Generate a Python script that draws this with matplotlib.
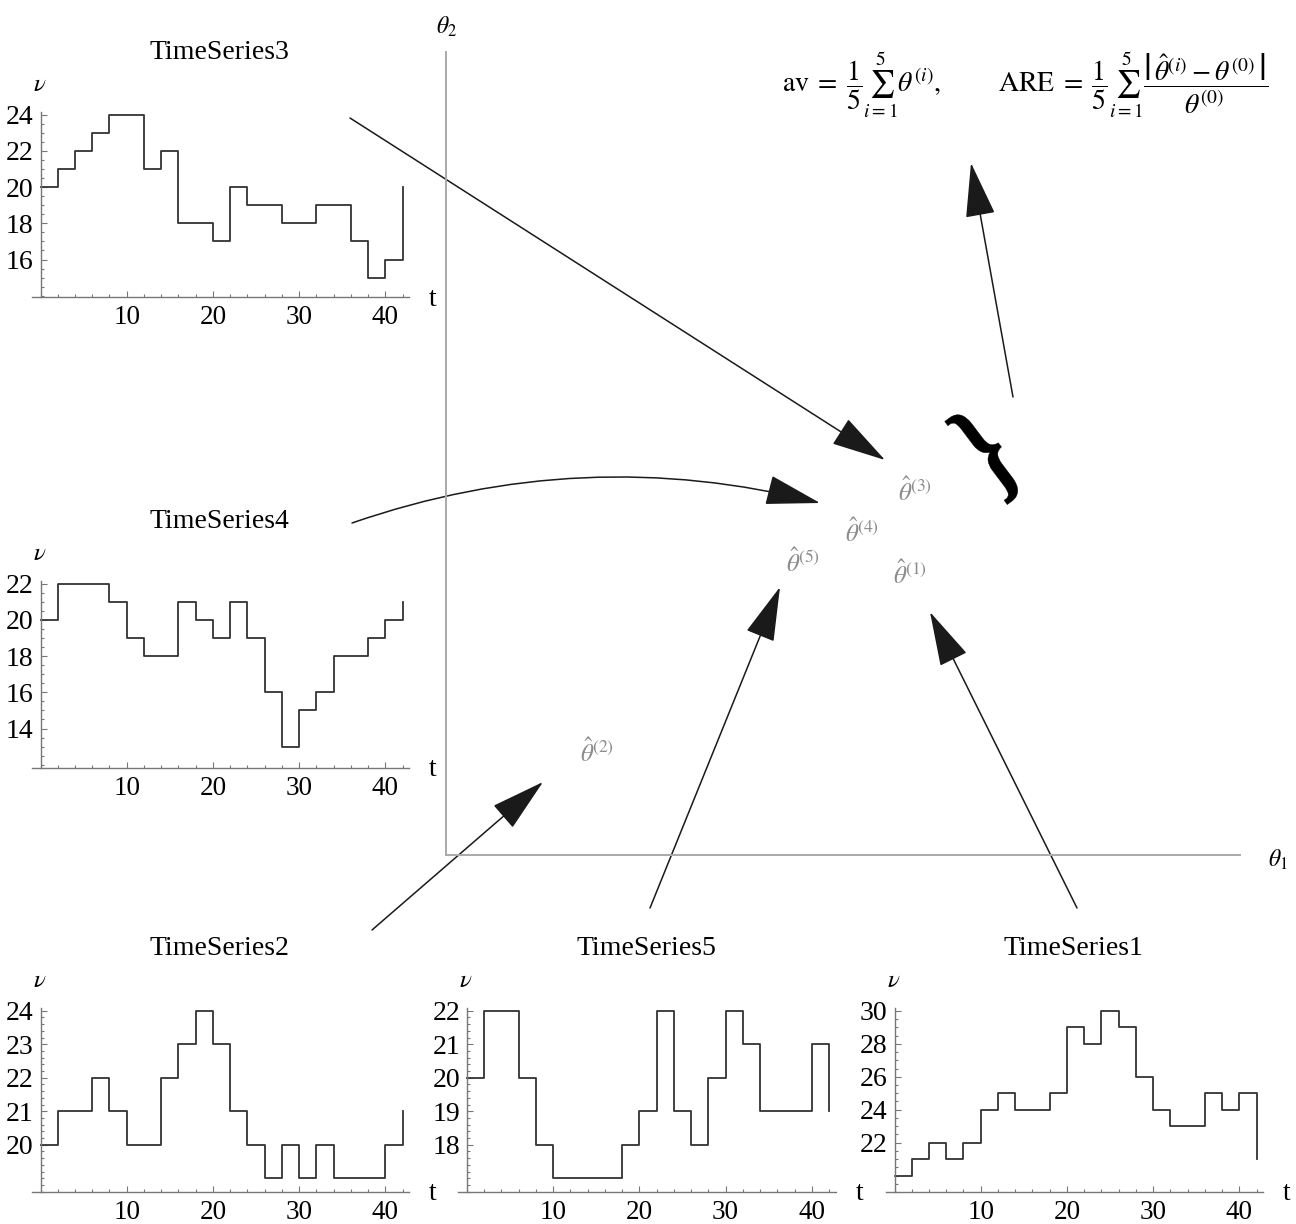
import matplotlib
matplotlib.use('Agg')
import matplotlib.pyplot as plt
import matplotlib.ticker as ticker
from matplotlib.textpath import TextPath
from matplotlib.patches import PathPatch
from matplotlib.font_manager import FontProperties
from matplotlib.transforms import Affine2D
import numpy as np

# ---------------------- Data (step values at t = 0, 2, ..., 42) ----------------------
t = np.arange(0, 43, 2)
ts1 = [20, 21, 22, 21, 22, 24, 25, 24, 24, 25, 29, 28, 30, 29, 26, 24, 23, 23, 25, 24, 25, 21]
ts2 = [20, 21, 21, 22, 21, 20, 20, 22, 23, 24, 23, 21, 20, 19, 20, 19, 20, 19, 19, 19, 20, 21]
ts3 = [20, 21, 22, 23, 24, 24, 21, 22, 18, 18, 17, 20, 19, 19, 18, 18, 19, 19, 17, 15, 16, 20]
ts4 = [20, 22, 22, 22, 21, 19, 18, 18, 21, 20, 19, 21, 19, 16, 13, 15, 16, 18, 18, 19, 20, 21]
ts5 = [20, 22, 22, 20, 18, 17, 17, 17, 17, 18, 19, 22, 19, 18, 20, 22, 21, 19, 19, 19, 21, 19]

# estimates in the (theta1, theta2) plane, arbitrary 0-10 units
est_labels = ['(1)', '(2)', '(3)', '(4)', '(5)']
est_theta1 = [5.84, 1.90, 5.91, 5.24, 4.50]
est_theta2 = [3.49, 1.28, 4.52, 4.01, 3.64]

# ---------------------- Plot Settings ----------------------
plt.rcParams.update({
    'font.family': 'Liberation Serif',
    'mathtext.fontset': 'stix',
    'font.size': 20,
})

W, H = 1296, 1224
fig = plt.figure(figsize=(W / 100, H / 100), dpi=100)

# overlay in pixel coordinates for arrows and text
ov = fig.add_axes([0, 0, 1, 1])
ov.set_xlim(0, W)
ov.set_ylim(H, 0)
ov.axis('off')
ov.patch.set_visible(False)

PPX = 8.62          # pixels per time unit
X_LO, X_HI = -1.0, 42.8
AX_COL = '#777777'
LINE_COL = '#333333'


def add_panel(t0_px, ybot_px, ylo, yhi, ppy, values, yticks, yminor, title):
    left = t0_px + X_LO * PPX
    width = (X_HI - X_LO) * PPX
    height = (yhi - ylo) * ppy
    ax = fig.add_axes([left / W, (H - ybot_px) / H, width / W, height / H])
    ax.set_facecolor('none')
    ax.step(t, values, where='post', color=LINE_COL, lw=1.3)
    ax.set_xlim(X_LO, X_HI)
    ax.set_ylim(ylo, yhi)
    ax.spines['left'].set_position(('data', 0))
    for s in ('top', 'right'):
        ax.spines[s].set_visible(False)
    for s in ('left', 'bottom'):
        ax.spines[s].set_color(AX_COL)
        ax.spines[s].set_linewidth(1.0)
    ax.set_xticks([10, 20, 30, 40])
    ax.xaxis.set_minor_locator(ticker.MultipleLocator(2))
    ax.set_yticks(yticks)
    ax.yaxis.set_minor_locator(ticker.MultipleLocator(yminor))
    ax.tick_params(which='both', direction='in', color=AX_COL, width=0.8)
    ax.tick_params(which='major', length=4.5)
    ax.tick_params(which='minor', length=2.2)
    ax.tick_params(axis='x', pad=5.5, labelsize=19.5)
    ax.tick_params(axis='y', pad=5, labelsize=20)
    top_px = ybot_px - height
    ov.text(t0_px - 1, top_px - 27, r'$\nu$', fontsize=18, ha='center', va='center')
    ov.text(t0_px + 45.5 * PPX, ybot_px + 2, 't', fontsize=20, ha='center', va='center')
    ov.text(t0_px + 20.8 * PPX, top_px - 59, title, fontsize=20, ha='center', va='center')
    return ax


add_panel(40.5, 297, 13.93, 24.17, 18.1, ts3, [16, 18, 20, 22, 24], 0.5, 'TimeSeries3')
add_panel(40.5, 768, 11.82, 22.17, 18.1, ts4, [14, 16, 18, 20, 22], 0.5, 'TimeSeries4')
add_panel(40.5, 1192, 18.59, 24.09, 33.5, ts2, [20, 21, 22, 23, 24], 0.2, 'TimeSeries2')
add_panel(467, 1192, 16.59, 22.09, 33.5, ts5, [18, 19, 20, 21, 22], 0.2, 'TimeSeries5')
add_panel(894.5, 1192, 19.0, 30.18, 16.46, ts1, [22, 24, 26, 28, 30], 0.5, 'TimeSeries1')

# ---------------------- theta plane ----------------------
th_left, th_right, th_top, th_bot = 446, 1240, 52, 855
axt = fig.add_axes([th_left / W, (H - th_bot) / H, (th_right - th_left) / W, (th_bot - th_top) / H])
axt.set_facecolor('none')
axt.set_xlim(0, 10)
axt.set_ylim(0, 10)
for s in ('top', 'right'):
    axt.spines[s].set_visible(False)
for s in ('left', 'bottom'):
    axt.spines[s].set_color('#aaaaaa')
    axt.spines[s].set_linewidth(1.4)
axt.set_xticks([])
axt.set_yticks([])
for lab, x, y in zip(est_labels, est_theta1, est_theta2):
    axt.text(x, y, r'$\hat{\theta}^{%s}$' % lab, fontsize=18, color='#8c8c8c',
             ha='center', va='center')

ov.text(1278, 860, r'$\theta_1$', fontsize=17, ha='center', va='center')
ov.text(447, 27, r'$\theta_2$', fontsize=17, ha='center', va='center')

# ---------------------- arrows ----------------------
head = '-|>,head_length=1.76,head_width=0.48'


def arrow(tail, tip, conn='arc3,rad=0'):
    ov.annotate('', xy=tip, xytext=tail,
                arrowprops=dict(arrowstyle=head, mutation_scale=20, lw=1.1,
                                color='#1a1a1a', shrinkA=0, shrinkB=0,
                                connectionstyle=conn))


arrow((350, 118), (885, 460))
arrow((352, 523), (820, 503), 'arc3,rad=-0.15')
arrow((372, 930), (543, 782))
arrow((650, 908), (780, 587))
arrow((1077, 908), (930, 612))
arrow((1013, 397), (971, 163))

# tilted, stretched curly brace
brace = TextPath((0, 0), '}', size=1, prop=FontProperties(family='Liberation Serif', weight='bold'))
bb = brace.get_extents()
cx, cy = (bb.x0 + bb.x1) / 2, (bb.y0 + bb.y1) / 2
tr = (Affine2D().translate(-cx, -cy)
      .scale(30 / bb.width, 104 / bb.height)
      .rotate_deg(37)
      .translate(988, H - 454))
fig.add_artist(PathPatch(brace, transform=tr, facecolor='black', edgecolor='black', lw=0.3))

# ---------------------- formulas ----------------------
ov.text(862, 85, r'$\mathrm{av}\;=\;\dfrac{1}{5}\sum_{i=1}^{5}\theta^{(i)},$',
        fontsize=20, ha='center', va='center')
ov.text(1133, 85,
        r'$\mathrm{ARE}\;=\;\dfrac{1}{5}\sum_{i=1}^{5}'
        r'\dfrac{\left|\,\hat{\theta}^{(i)} - \theta^{(0)}\,\right|}{\theta^{(0)}}$',
        fontsize=20, ha='center', va='center')

plt.savefig('out.png', dpi=100)
plt.close()
